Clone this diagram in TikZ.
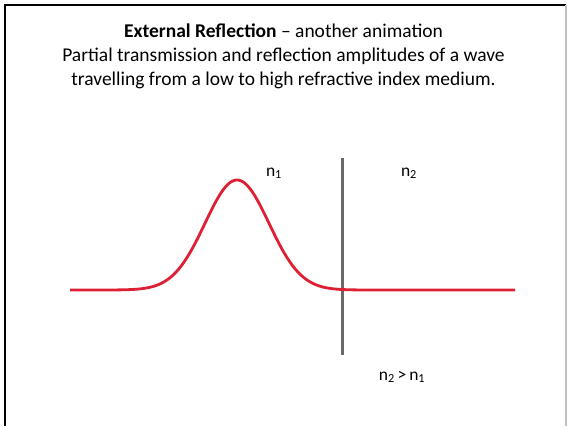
\documentclass[tikz,border=0pt]{standalone}
\usepackage{fontspec}
\setmainfont{Carlito}
\begin{document}
\begin{tikzpicture}[x=1pt,y=-1pt,
  title/.style={font=\fontsize{19.5}{23}\selectfont, inner sep=0pt, anchor=base},
  lbl/.style={font=\fontsize{17.5}{20}\selectfont, inner sep=0pt, anchor=base},
  wave/.style={draw={rgb,255:red,222;green,32;blue,52}, line width=2.8pt, line join=round},
  iface/.style={draw={rgb,255:red,105;green,105;blue,105}, line width=3pt}]
\useasboundingbox (0,0) rectangle (567,426);
\fill[white] (0,0) rectangle (567,426);
\draw[line width=2.5pt] (5,426) -- (5,5) -- (566,5);
\draw[gray!50, line width=1.2pt] (566,5) -- (566,426);
\node[title] (t1) at (283.5,37) {\textbf{External Reflection} -- another animation};
\node[title] (t2) at (283.5,61) {Partial transmission and reflection amplitudes of a wave};
\node[title] (t3) at (283.5,85) {travelling from a low to high refractive index medium.};
\coordinate (top) at (342.5,158);
\coordinate (bot) at (342.5,355);
\draw[iface] (top) -- (bot);
\draw[wave] plot[domain=70:515, samples=250] (\x, {290-110*exp(-((\x-237)/32)*((\x-237)/32)/2)});
\node[lbl] (n1) at (274,176) {n\textsubscript{1}};
\node[lbl] (n2) at (409,176) {n\textsubscript{2}};
\node[lbl] (cmp) at (402,380) {n\textsubscript{2}\,>\,n\textsubscript{1}};
\end{tikzpicture}
\end{document}
